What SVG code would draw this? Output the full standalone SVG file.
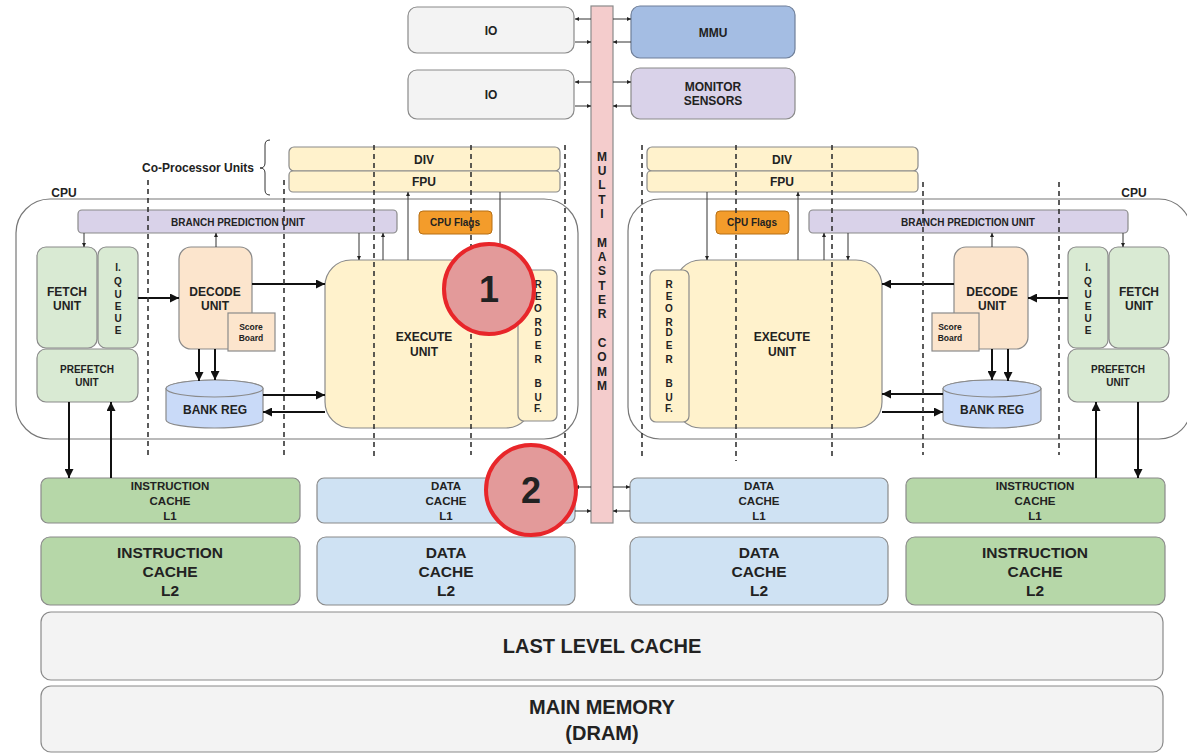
<svg xmlns="http://www.w3.org/2000/svg" width="1187" height="754" viewBox="0 0 1187 754">
<defs>
<style>
text{font-family:"Liberation Sans",Arial,sans-serif;font-weight:bold;fill:#222;text-anchor:middle}
.bx{stroke:#8a8a8a;stroke-width:1.2}
.gray{fill:#f3f3f3}
.mmu{fill:#a4bde3;stroke:#6f7f99}
.lav{fill:#d9d2e9}
.bus{fill:#f4cccc}
.yel{fill:#fff2cc}
.org{fill:#f39c2b;stroke:#b66f14}
.grn{fill:#d9ead3}
.grn2{fill:#b6d7a8}
.pch{fill:#fce5cd}
.blu{fill:#c9daf8}
.dat{fill:#cfe2f3}
.cont{fill:none;stroke:#777;stroke-width:1.2}
.thin{stroke:#333;stroke-width:1;fill:none}
.thick{stroke:#111;stroke-width:2;fill:none}
.dash{stroke:#333;stroke-width:1.6;stroke-dasharray:5 4;fill:none}
.t10{font-size:10px}
.t11{font-size:11.5px}
.t12{font-size:12px}
.t15{font-size:15.5px}
.t20{font-size:20px}
.circ{fill:#e39a9a;stroke:#e8262a;stroke-width:4}
</style>
<marker id="a1" viewBox="0 0 10 10" refX="10" refY="5" markerWidth="5" markerHeight="4" markerUnits="userSpaceOnUse" orient="auto"><path d="M0,0 L10,5 L0,10 z" fill="#222"/></marker>
<marker id="a2" viewBox="0 0 10 10" refX="10" refY="5" markerWidth="12" markerHeight="9" markerUnits="userSpaceOnUse" orient="auto"><path d="M0,0 L10,5 L0,10 z" fill="#111"/></marker>
</defs>
<rect width="1187" height="754" fill="#ffffff"/>

<!-- containers -->
<g id="cpu-left">
<rect class="cont" x="16" y="199" width="562" height="240" rx="34"/>
<text class="t12" x="64" y="197">CPU</text>
</g>
<g id="cpu-right">
<rect class="cont" x="628" y="199" width="563" height="240" rx="32"/>
<text class="t12" x="1134" y="197">CPU</text>
</g>
<g id="coproc-label">
<text class="t12" x="198" y="172">Co-Processor Units</text>
<path class="thin" d="M270,140 Q265,140 265,145 L265,163 Q265,168 260,168 Q265,168 265,173 L265,190 Q265,195 270,195" stroke="#555"/>
</g>

<!-- top -->
<g id="io1"><rect class="bx gray" x="408" y="7" width="166" height="46" rx="9"/><text class="t12" x="491" y="35">IO</text></g>
<g id="io2"><rect class="bx gray" x="408" y="70" width="166" height="49" rx="9"/><text class="t12" x="491" y="99">IO</text></g>
<g id="mmu"><rect class="mmu" stroke-width="1.2" x="631" y="6" width="164" height="52" rx="9"/><text class="t12" x="713" y="37">MMU</text></g>
<g id="monitor"><rect class="bx lav" x="631" y="68" width="164" height="51" rx="9"/><text class="t12" x="713" y="91">MONITOR</text><text class="t12" x="713" y="105">SENSORS</text></g>

<g id="bus">
<rect class="bx bus" x="591" y="6" width="22" height="517"/>
<text class="t12" x="602"><tspan x="602" y="161">M</tspan><tspan x="602" y="175">U</tspan><tspan x="602" y="189">L</tspan><tspan x="602" y="204">T</tspan><tspan x="602" y="218">I</tspan><tspan x="602" y="247">M</tspan><tspan x="602" y="261">A</tspan><tspan x="602" y="275">S</tspan><tspan x="602" y="290">T</tspan><tspan x="602" y="304">E</tspan><tspan x="602" y="318">R</tspan><tspan x="602" y="347">C</tspan><tspan x="602" y="361">O</tspan><tspan x="602" y="376">M</tspan><tspan x="602" y="390">M</tspan></text>
</g>

<!-- coprocessors -->
<g id="div-left"><rect class="bx yel" x="289" y="147" width="271" height="24" rx="5"/><text class="t12" x="424" y="164">DIV</text></g>
<g id="fpu-left"><rect class="bx yel" x="289" y="171" width="271" height="21" rx="4"/><text class="t12" x="424" y="186">FPU</text></g>
<g id="div-right"><rect class="bx yel" x="647" y="147" width="271" height="24" rx="5"/><text class="t12" x="782" y="164">DIV</text></g>
<g id="fpu-right"><rect class="bx yel" x="647" y="171" width="271" height="21" rx="4"/><text class="t12" x="782" y="186">FPU</text></g>

<!-- left CPU -->
<g id="bpu-left"><rect class="bx lav" x="78" y="210" width="319" height="23" rx="4"/><text class="t10" x="238" y="226">BRANCH PREDICTION UNIT</text></g>
<g id="flags-left"><rect class="org" stroke-width="1" x="419" y="211" width="73" height="23" rx="4"/><text class="t10" x="455" y="226" font-size="10.5">CPU Flags</text></g>
<g id="fetch-left"><rect class="bx grn" x="37" y="247" width="60" height="101" rx="9"/><text class="t12" x="67" y="296">FETCH</text><text class="t12" x="67" y="310">UNIT</text></g>
<g id="iqueue-left"><rect class="bx grn" x="98" y="247" width="40" height="101" rx="8"/>
<text class="t10" x="118"><tspan x="118" y="271">I.</tspan><tspan x="118" y="285">Q</tspan><tspan x="118" y="298">U</tspan><tspan x="118" y="310">E</tspan><tspan x="118" y="322">U</tspan><tspan x="118" y="334">E</tspan></text></g>
<g id="prefetch-left"><rect class="bx grn" x="37" y="349" width="101" height="53" rx="9"/><text class="t10" x="87" y="373" font-size="10.5">PREFETCH</text><text class="t10" x="87" y="386" font-size="10.5">UNIT</text></g>
<g id="decode-left"><rect class="bx pch" x="179" y="247" width="73" height="102" rx="12"/><text class="t12" x="215" y="296">DECODE</text><text class="t12" x="215" y="310">UNIT</text></g>
<g id="score-left"><rect class="bx pch" x="228" y="313" width="47" height="38"/><text x="251" y="330" font-size="8.5">Score</text><text x="251" y="341" font-size="8.5">Board</text></g>
<g id="bank-left"><path class="bx blu" d="M166,388.5 L166,420 A48.5,8 0 0 0 263,420 L263,388.5 A48.5,8.5 0 0 0 166,388.5 Z"/><ellipse class="bx blu" cx="214.5" cy="388.5" rx="48.5" ry="8.5"/><text class="t12" x="215" y="414">BANK REG</text></g>
<g id="execute-left"><rect class="bx yel" x="325" y="260" width="207" height="168" rx="26"/><text class="t12" x="424" y="341">EXECUTE</text><text class="t12" x="424" y="356">UNIT</text></g>
<g id="reorder-left"><rect class="bx yel" x="518" y="270" width="39" height="151" rx="6"/>
<text class="t10" x="538"><tspan x="538" y="288">R</tspan><tspan x="538" y="300">E</tspan><tspan x="538" y="312">O</tspan><tspan x="538" y="326">R</tspan><tspan x="538" y="336">D</tspan><tspan x="538" y="349">E</tspan><tspan x="538" y="363">R</tspan><tspan x="538" y="387">B</tspan><tspan x="538" y="401">U</tspan><tspan x="538" y="412">F.</tspan></text></g>

<!-- right CPU -->
<g id="bpu-right"><rect class="bx lav" x="809" y="210" width="319" height="23" rx="4"/><text class="t10" x="968" y="226">BRANCH PREDICTION UNIT</text></g>
<g id="flags-right"><rect class="org" stroke-width="1" x="716" y="211" width="73" height="23" rx="4"/><text class="t10" x="752" y="226" font-size="10.5">CPU Flags</text></g>
<g id="fetch-right"><rect class="bx grn" x="1109" y="247" width="60" height="101" rx="9"/><text class="t12" x="1139" y="296">FETCH</text><text class="t12" x="1139" y="310">UNIT</text></g>
<g id="iqueue-right"><rect class="bx grn" x="1068" y="247" width="40" height="101" rx="8"/>
<text class="t10" x="1088"><tspan x="1088" y="271">I.</tspan><tspan x="1088" y="285">Q</tspan><tspan x="1088" y="298">U</tspan><tspan x="1088" y="310">E</tspan><tspan x="1088" y="322">U</tspan><tspan x="1088" y="334">E</tspan></text></g>
<g id="prefetch-right"><rect class="bx grn" x="1068" y="349" width="101" height="53" rx="9"/><text class="t10" x="1118" y="373" font-size="10.5">PREFETCH</text><text class="t10" x="1118" y="386" font-size="10.5">UNIT</text></g>
<g id="decode-right"><rect class="bx pch" x="954" y="247" width="74" height="102" rx="12"/><text class="t12" x="992" y="296">DECODE</text><text class="t12" x="992" y="310">UNIT</text></g>
<g id="score-right"><rect class="bx pch" x="932" y="313" width="47" height="38"/><text x="950" y="330" font-size="8.5">Score</text><text x="950" y="341" font-size="8.5">Board</text></g>
<g id="bank-right"><path class="bx blu" d="M943,388.5 L943,420 A49,8 0 0 0 1041,420 L1041,388.5 A49,8.5 0 0 0 943,388.5 Z"/><ellipse class="bx blu" cx="992" cy="388.5" rx="49" ry="8.5"/><text class="t12" x="992" y="414">BANK REG</text></g>
<g id="execute-right"><rect class="bx yel" x="675" y="260" width="207" height="168" rx="26"/><text class="t12" x="782" y="341">EXECUTE</text><text class="t12" x="782" y="356">UNIT</text></g>
<g id="reorder-right"><rect class="bx yel" x="650" y="270" width="39" height="152" rx="6"/>
<text class="t10" x="669"><tspan x="669" y="288">R</tspan><tspan x="669" y="300">E</tspan><tspan x="669" y="312">O</tspan><tspan x="669" y="326">R</tspan><tspan x="669" y="336">D</tspan><tspan x="669" y="349">E</tspan><tspan x="669" y="363">R</tspan><tspan x="669" y="387">B</tspan><tspan x="669" y="401">U</tspan><tspan x="669" y="412">F.</tspan></text></g>

<!-- caches -->
<g id="icache-l1-left"><rect class="bx grn2" x="41" y="478" width="259" height="45" rx="7"/><text class="t11" x="170" y="490">INSTRUCTION</text><text class="t11" x="170" y="505">CACHE</text><text class="t11" x="170" y="520">L1</text></g>
<g id="dcache-l1-left"><rect class="bx dat" x="317" y="478" width="258" height="45" rx="7"/><text class="t11" x="446" y="490">DATA</text><text class="t11" x="446" y="505">CACHE</text><text class="t11" x="446" y="520">L1</text></g>
<g id="dcache-l1-right"><rect class="bx dat" x="630" y="478" width="258" height="45" rx="7"/><text class="t11" x="759" y="490">DATA</text><text class="t11" x="759" y="505">CACHE</text><text class="t11" x="759" y="520">L1</text></g>
<g id="icache-l1-right"><rect class="bx grn2" x="906" y="478" width="259" height="45" rx="7"/><text class="t11" x="1035" y="490">INSTRUCTION</text><text class="t11" x="1035" y="505">CACHE</text><text class="t11" x="1035" y="520">L1</text></g>
<g id="icache-l2-left"><rect class="bx grn2" x="41" y="537" width="259" height="68" rx="9"/><text class="t15" x="170" y="558">INSTRUCTION</text><text class="t15" x="170" y="577">CACHE</text><text class="t15" x="170" y="596">L2</text></g>
<g id="dcache-l2-left"><rect class="bx dat" x="317" y="537" width="258" height="68" rx="9"/><text class="t15" x="446" y="558">DATA</text><text class="t15" x="446" y="577">CACHE</text><text class="t15" x="446" y="596">L2</text></g>
<g id="dcache-l2-right"><rect class="bx dat" x="630" y="537" width="258" height="68" rx="9"/><text class="t15" x="759" y="558">DATA</text><text class="t15" x="759" y="577">CACHE</text><text class="t15" x="759" y="596">L2</text></g>
<g id="icache-l2-right"><rect class="bx grn2" x="906" y="537" width="259" height="68" rx="9"/><text class="t15" x="1035" y="558">INSTRUCTION</text><text class="t15" x="1035" y="577">CACHE</text><text class="t15" x="1035" y="596">L2</text></g>
<g id="llc"><rect class="bx gray" x="41" y="612" width="1122" height="68" rx="10"/><text class="t20" x="602" y="653">LAST LEVEL CACHE</text></g>
<g id="main-memory"><rect class="bx gray" x="41" y="686" width="1122" height="66" rx="10"/><text class="t20" x="602" y="714">MAIN MEMORY</text><text class="t20" x="602" y="740">(DRAM)</text></g>

<!-- connectors -->
<g id="connectors">
<line class="thin" x1="591" y1="19" x2="575" y2="19" marker-end="url(#a1)"/>
<line class="thin" x1="575" y1="42" x2="591" y2="42" marker-end="url(#a1)"/>
<line class="thin" x1="613" y1="19" x2="631" y2="19" marker-end="url(#a1)"/>
<line class="thin" x1="631" y1="42" x2="613" y2="42" marker-end="url(#a1)"/>
<line class="thin" x1="591" y1="82" x2="575" y2="82" marker-end="url(#a1)"/>
<line class="thin" x1="575" y1="106" x2="591" y2="106" marker-end="url(#a1)"/>
<line class="thin" x1="613" y1="82" x2="631" y2="82" marker-end="url(#a1)"/>
<line class="thin" x1="631" y1="106" x2="613" y2="106" marker-end="url(#a1)"/>

<line class="thin" x1="84" y1="233" x2="84" y2="247" marker-end="url(#a1)"/>
<line class="thin" x1="216" y1="247" x2="216" y2="233" marker-end="url(#a1)"/>
<line class="thick" x1="138" y1="298" x2="179" y2="298" marker-end="url(#a2)"/>
<line class="thick" x1="252" y1="284" x2="325" y2="284" marker-end="url(#a2)"/>
<line class="thick" x1="199" y1="349" x2="199" y2="381" marker-end="url(#a2)"/>
<line class="thick" x1="215" y1="349" x2="215" y2="380" marker-end="url(#a2)"/>
<line class="thick" x1="263" y1="395" x2="325" y2="395" marker-end="url(#a2)"/>
<line class="thick" x1="325" y1="412" x2="263" y2="412" marker-end="url(#a2)"/>
<line class="thin" x1="359" y1="233" x2="359" y2="260" marker-end="url(#a1)"/>
<line class="thin" x1="383" y1="260" x2="383" y2="233" marker-end="url(#a1)"/>
<line class="thin" x1="408" y1="260" x2="408" y2="192" marker-end="url(#a1)"/>
<line class="thin" x1="500" y1="192" x2="500" y2="266"/>
<line class="thick" x1="69" y1="402" x2="69" y2="478" marker-end="url(#a2)"/>
<line class="thick" x1="111" y1="478" x2="111" y2="402" marker-end="url(#a2)"/>

<line class="thick" x1="1068" y1="298" x2="1028" y2="298" marker-end="url(#a2)"/>
<line class="thick" x1="954" y1="284" x2="882" y2="284" marker-end="url(#a2)"/>
<line class="thick" x1="992" y1="349" x2="992" y2="380" marker-end="url(#a2)"/>
<line class="thick" x1="1008" y1="349" x2="1008" y2="381" marker-end="url(#a2)"/>
<line class="thick" x1="943" y1="394" x2="882" y2="394" marker-end="url(#a2)"/>
<line class="thick" x1="882" y1="412" x2="943" y2="412" marker-end="url(#a2)"/>
<line class="thin" x1="992" y1="247" x2="992" y2="233" marker-end="url(#a1)"/>
<line class="thin" x1="1123" y1="233" x2="1123" y2="247" marker-end="url(#a1)"/>
<line class="thin" x1="707" y1="192" x2="707" y2="260" marker-end="url(#a1)"/>
<line class="thin" x1="798" y1="260" x2="798" y2="192" marker-end="url(#a1)"/>
<line class="thin" x1="824" y1="260" x2="824" y2="233" marker-end="url(#a1)"/>
<line class="thin" x1="848" y1="233" x2="848" y2="260" marker-end="url(#a1)"/>
<line class="thick" x1="1096" y1="478" x2="1096" y2="402" marker-end="url(#a2)"/>
<line class="thick" x1="1138" y1="402" x2="1138" y2="478" marker-end="url(#a2)"/>

<line class="thin" x1="591" y1="487" x2="575" y2="487" marker-end="url(#a1)"/>
<line class="thin" x1="575" y1="511" x2="591" y2="511" marker-end="url(#a1)"/>
<line class="thin" x1="613" y1="487" x2="630" y2="487" marker-end="url(#a1)"/>
<line class="thin" x1="630" y1="511" x2="613" y2="511" marker-end="url(#a1)"/>
</g>

<g id="pipeline-dividers">
<line class="dash" x1="148" y1="180" x2="148" y2="455"/>
<line class="dash" x1="284" y1="180" x2="284" y2="455"/>
<line class="dash" x1="374" y1="145" x2="374" y2="458"/>
<line class="dash" x1="471" y1="145" x2="471" y2="455"/>
<line class="dash" x1="565" y1="145" x2="565" y2="455"/>
<line class="dash" x1="642" y1="145" x2="642" y2="458"/>
<line class="dash" x1="736" y1="145" x2="736" y2="461"/>
<line class="dash" x1="832" y1="145" x2="832" y2="458"/>
<line class="dash" x1="923" y1="182" x2="923" y2="455"/>
<line class="dash" x1="1059" y1="182" x2="1059" y2="455"/>
</g>

<g id="marker-1"><circle class="circ" cx="489" cy="289" r="45"/><text x="489" y="302" font-size="36" fill="#000">1</text></g>
<g id="marker-2"><circle class="circ" cx="531" cy="490" r="45"/><text x="531" y="503" font-size="36" fill="#000">2</text></g>
</svg>
